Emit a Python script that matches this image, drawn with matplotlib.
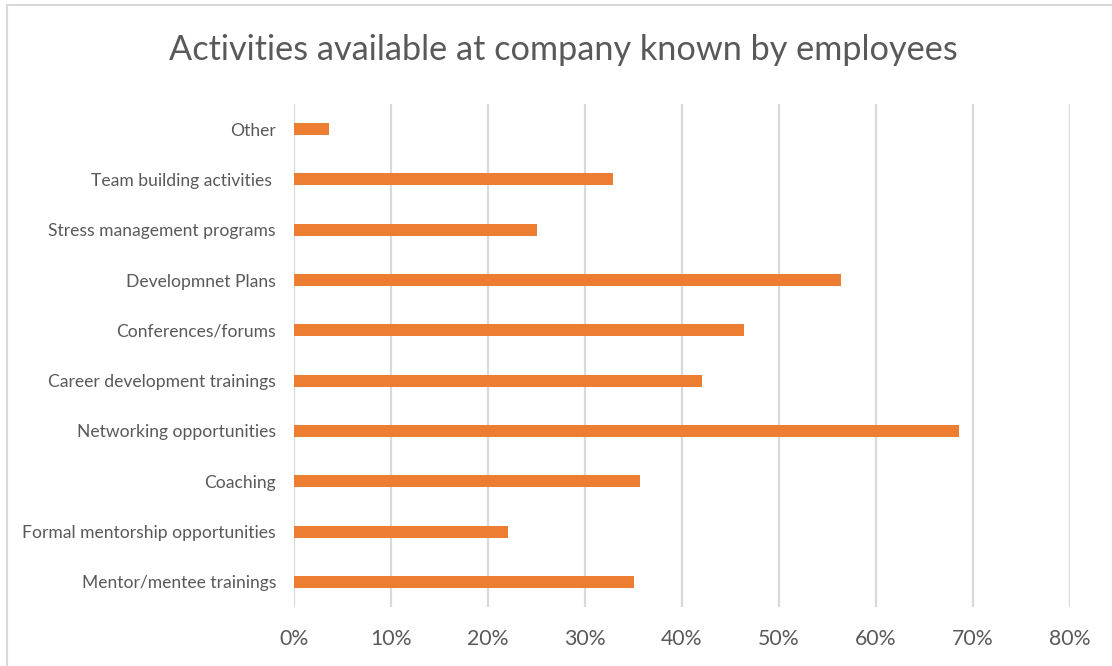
import matplotlib.pyplot as plt
import matplotlib.patches as patches
from matplotlib.ticker import PercentFormatter

# data (bottom to top, as drawn)
categories = ["Mentor/mentee trainings", "Formal mentorship opportunities",
              "Coaching", "Networking opportunities",
              "Career development trainings", "Conferences/forums",
              "Developmnet Plans", "Stress management programs",
              "Team building activities ", "Other"]
shares = [35.0, 22.1, 35.7, 68.6, 42.1, 46.4, 56.4, 25.0, 32.9, 3.6]
xticks = [0, 10, 20, 30, 40, 50, 60, 70, 80]

bar_color = "#ED7D31"
text_color = "#595959"
grid_color = "#D9D9D9"

plt.rcParams['font.family'] = ['Lato', 'DejaVu Sans']

W, H = 1112, 666
fig = plt.figure(figsize=(W / 100, H / 100), dpi=100)
ax = fig.add_axes([294 / W, 1 - 607 / H, (1070 - 294) / W, (607 - 104) / H])

ypos = list(range(len(categories)))
ax.barh(ypos, shares, height=0.24, color=bar_color, zorder=3)

ax.set_xlim(0, 80)
ax.set_ylim(-0.5, len(categories) - 0.5)
ax.set_xticks(xticks)
ax.xaxis.set_major_formatter(PercentFormatter(decimals=0))
ax.set_yticks(ypos)
ax.set_yticklabels(categories)

ax.grid(axis='x', color=grid_color, linewidth=1.6, zorder=0)
ax.grid(axis='y', visible=False)
for side in ['top', 'right', 'bottom', 'left']:
    ax.spines[side].set_visible(False)

ax.tick_params(axis='x', length=0, pad=16, labelsize=15.3, labelcolor=text_color)
ax.tick_params(axis='y', length=0, pad=13, labelsize=12.6, labelcolor=text_color)

# title
fig.text(563.5 / W, 1 - 60 / H, "Activities available at company known by employees",
         ha='center', va='baseline', fontsize=24.7, color=text_color)

# chart frame
frame = patches.Rectangle((7 / W, -0.1), 1.2, 1.1 - 5.5 / H, transform=fig.transFigure,
                          fill=False, edgecolor=grid_color, linewidth=1.5)
fig.patches.append(frame)

fig.savefig("out.png", dpi=100, facecolor="white")
